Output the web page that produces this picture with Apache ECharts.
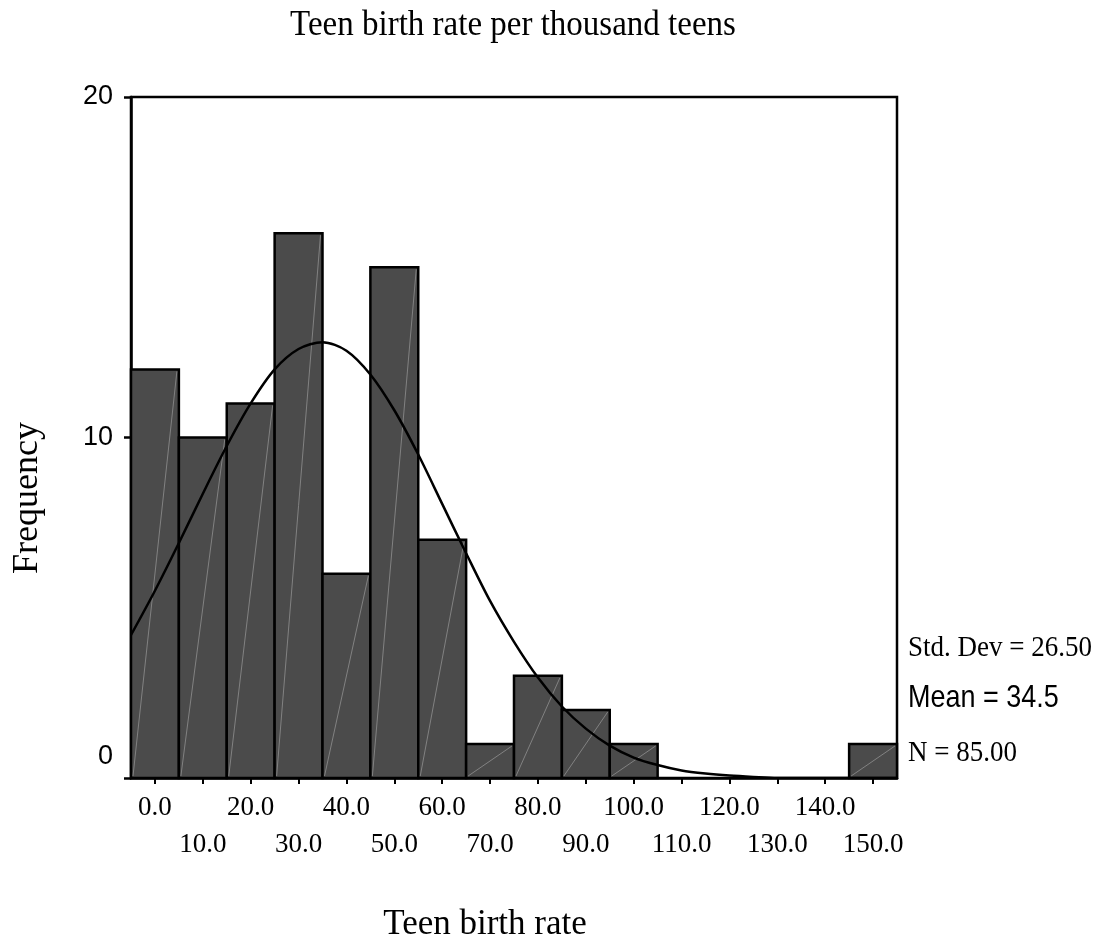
<!DOCTYPE html>
<html>
<head>
<meta charset="utf-8">
<script src="https://cdn.jsdelivr.net/npm/echarts@6/dist/echarts.min.js"></script>
<style>
  html, body { margin: 0; padding: 0; background: #fff; }
  #chart { width: 1108px; height: 943px; }
</style>
</head>
<body>
<div id="chart"></div>
<script>
// Histogram bins (centre of each 10-unit bin) and their frequencies
const binCenters = [0, 10, 20, 30, 40, 50, 60, 70, 80, 90, 100, 110, 120, 130, 140, 150];
const binCounts  = [12, 10, 11, 16, 6, 15, 7, 1, 3, 2, 1, 0, 0, 0, 0, 1];
const binWidth = 10;

// Fitted normal curve, sampled along the rate axis
const curveX = [-5, 0, 5, 10, 15, 20, 25, 30, 35, 40, 45, 50, 55, 60, 65, 70, 75, 80,
                85, 90, 95, 100, 105, 110, 115, 120, 125, 130, 135, 140, 145, 150, 155];
const curveY = [4.2, 5.5, 6.9, 8.35, 9.75, 11.0, 12.0, 12.6, 12.8, 12.55, 11.85, 10.8, 9.5, 8.05, 6.6, 5.2, 4.0, 2.95,
                2.1, 1.45, 0.95, 0.6, 0.38, 0.22, 0.13, 0.07, 0.03, 0, 0, 0, 0, 0, 0];

// Axis ticks and labels (labels alternate between two rows)
const xTickValues = [0, 10, 20, 30, 40, 50, 60, 70, 80, 90, 100, 110, 120, 130, 140, 150];
const xTickLabels = ['0.0', '10.0', '20.0', '30.0', '40.0', '50.0', '60.0', '70.0',
                     '80.0', '90.0', '100.0', '110.0', '120.0', '130.0', '140.0', '150.0'];
const yTickValues = [0, 10, 20];
const yTickLabels = ['0', '10', '20'];

// Summary statistics shown beside the plot
const statStdDev = 'Std. Dev = 26.50';
const statMean = 'Mean = 34.5';
const statN = 'N = 85.00';

const chartTitle = 'Teen birth rate per thousand teens';
const xTitle = 'Teen birth rate';
const yTitle = 'Frequency';

const SERIF = '"Liberation Serif", "Times New Roman", serif';
const SANS = '"Liberation Sans", Arial, sans-serif';

const upperRowValues = xTickValues.filter(function (v, i) { return i % 2 === 0; });
const lowerRowValues = xTickValues.filter(function (v, i) { return i % 2 === 1; });

function xLabelText(value) {
  const i = xTickValues.indexOf(Math.round(value));
  return i < 0 ? '' : xTickLabels[i];
}

function textItem(text, x, y, font, size, align, extra) {
  return Object.assign({
    type: 'text', silent: true, x: x, y: y,
    style: { text: text, fontFamily: font, fontSize: size, fill: '#000', align: align, verticalAlign: 'middle' }
  }, extra || {});
}

const xLabelBase = {
  showMinLabel: true,
  showMaxLabel: true,
  hideOverlap: false,
  color: '#000',
  fontFamily: SERIF,
  fontSize: 27,
  formatter: xLabelText
};

const chart = echarts.init(document.getElementById('chart'), null, { renderer: 'canvas' });

const option = {
  backgroundColor: '#ffffff',
  animation: false,
  grid: {
    left: 131, top: 97, right: 211, bottom: 165,
    show: true, borderColor: '#000', borderWidth: 2.5, backgroundColor: 'transparent'
  },
  xAxis: [
    {
      type: 'value',
      position: 'bottom',
      min: -5,
      max: 155,
      splitLine: { show: false },
      axisLine: { show: true, onZero: false, lineStyle: { color: '#000', width: 2.5 } },
      axisTick: {
        show: true, inside: false, length: 6,
        customValues: xTickValues,
        lineStyle: { color: '#000', width: 2 }
      },
      axisLabel: Object.assign({}, xLabelBase, { customValues: upperRowValues, margin: 16 })
    },
    {
      type: 'value',
      position: 'bottom',
      offset: 37,
      min: -5,
      max: 155,
      splitLine: { show: false },
      axisLine: { show: false },
      axisTick: { show: false },
      axisLabel: Object.assign({}, xLabelBase, { customValues: lowerRowValues, margin: 16 })
    }
  ],
  yAxis: {
    type: 'value',
    min: 0,
    max: 20,
    interval: 10,
    splitLine: { show: false },
    axisLine: { show: true, onZero: false, lineStyle: { color: '#000', width: 2.5 } },
    axisTick: { show: true, inside: false, length: 7, lineStyle: { color: '#000', width: 2.5 } },
    axisLabel: {
      margin: 18,
      color: '#000',
      fontFamily: SANS,
      fontSize: 27,
      formatter: function (value) {
        const i = yTickValues.indexOf(value);
        const text = i < 0 ? '' : yTickLabels[i];
        return value === 0 ? '{low|' + text + '}' : text;
      },
      rich: {
        low: { fontFamily: SANS, fontSize: 27, color: '#000', padding: [0, 0, 42, 0] }
      }
    }
  },
  graphic: [
    textItem(chartTitle, 513, 25, SERIF, 33, 'center', { scaleY: 1.1 }),
    textItem(xTitle, 485, 925, SERIF, 35, 'center'),
    textItem(yTitle, 28, 498, SERIF, 36, 'center', { rotation: Math.PI / 2 }),
    textItem(statStdDev, 908, 648, SERIF, 27, 'left', { scaleY: 1.12 }),
    textItem(statMean, 908, 698, SANS, 27, 'left', { scaleY: 1.15 }),
    textItem(statN, 908, 753, SERIF, 27, 'left', { scaleY: 1.12 })
  ],
  series: [
    {
      name: 'Frequency',
      type: 'custom',
      xAxisIndex: 0,
      clip: false,
      z: 2,
      encode: { x: 0, y: 1 },
      data: binCenters.map(function (c, i) { return [c, binCounts[i]]; }),
      renderItem: function (params, api) {
        const center = api.value(0);
        const count = api.value(1);
        if (!count) return null;
        const p0 = api.coord([center - binWidth / 2, 0]);
        const p1 = api.coord([center + binWidth / 2, count]);
        return {
          type: 'group',
          children: [
            {
              type: 'rect',
              shape: { x: p0[0], y: p1[1], width: p1[0] - p0[0], height: p0[1] - p1[1] },
              style: { fill: '#4b4b4b', stroke: '#000', lineWidth: 2.5 }
            },
            {
              type: 'line',
              shape: { x1: p0[0] + 2, y1: p0[1] - 2, x2: p1[0] - 2, y2: p1[1] + 2 },
              style: { stroke: '#8f8f8f', lineWidth: 0.8 }
            }
          ]
        };
      }
    },
    {
      name: 'Normal curve',
      type: 'line',
      xAxisIndex: 0,
      z: 3,
      showSymbol: false,
      symbol: 'none',
      smooth: 0.3,
      lineStyle: { color: '#000', width: 2.5 },
      data: curveX.map(function (x, i) { return [x, curveY[i]]; })
    }
  ]
};

chart.setOption(option);
</script>
</body>
</html>
